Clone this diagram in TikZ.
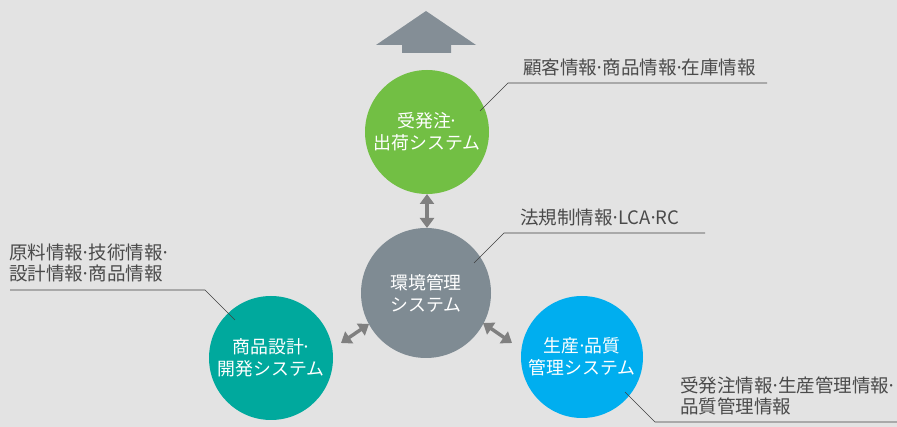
\documentclass[tikz,border=0pt]{standalone}
\usepackage{fontspec}
\setmainfont{Noto Sans CJK JP}
\usetikzlibrary{arrows.meta}
\definecolor{bgc}{HTML}{E3E3E3}
\definecolor{cgreen}{HTML}{72BF44}
\definecolor{cgray}{HTML}{7F8B93}
\definecolor{cteal}{HTML}{00A99D}
\definecolor{cblue}{HTML}{00AEEF}
\definecolor{arrowgray}{HTML}{808080}
\definecolor{bigarrow}{HTML}{848E96}
\definecolor{txt}{HTML}{4A4A4A}
\newcommand{\mdt}{\hbox to 0.28em{\hss·\hss}}
\tikzset{
  sysnode/.style={circle, inner sep=0pt, text=white, align=center,
    font=\fontsize{13.4}{16.5}\selectfont},
  infolabel/.style={anchor=west, inner sep=0pt, text=txt, align=left,
    font=\fontsize{13.9}{15.8}\selectfont},
  leader/.style={draw=black!75, line width=0.5pt},
  dblarrow/.style={draw=arrowgray, line width=2.6pt, {Triangle[width=10.5pt,length=7.5pt]}-{Triangle[width=10.5pt,length=7.5pt]}}
}
\begin{document}
\begin{tikzpicture}[x=0.75pt, y=-0.75pt]
\fill[bgc] (0,0) rectangle (897,427);
\useasboundingbox (0,0) rectangle (897,427);
% top big arrow
\fill[bigarrow] (426,11) -- (476,45) -- (451,45) -- (451,53) -- (402,53) -- (402,45) -- (376,45) -- cycle;
% circles
\node[sysnode, fill=cgreen, minimum size=93pt] (order) at (427,132) {受発注\mdt\\出荷システム};
\node[sysnode, fill=cgray, minimum size=97.5pt] (env) at (426,293) {環境管理\\システム};
\node[sysnode, fill=cteal, minimum size=93pt] (dev) at (271,358) {商品設計\mdt\\開発システム};
\node[sysnode, fill=cblue, minimum size=91.5pt] (prod) at (582,357) {生産\mdt 品質\\管理システム};
% double arrows
\coordinate (a1s) at (427,194); \coordinate (a1e) at (427,228);
\coordinate (a2s) at (341,343); \coordinate (a2e) at (369,324);
\coordinate (a3s) at (483,323); \coordinate (a3e) at (512,343);
\draw[dblarrow] (a1s) -- (a1e);
\draw[dblarrow] (a2s) -- (a2e);
\draw[dblarrow] (a3s) -- (a3e);
% labels
\node[infolabel] (lorder) at (523,67) {顧客情報\mdt 商品情報\mdt 在庫情報};
\node[infolabel] (lenv) at (520,217) {法規制情報\mdt LCA\mdt RC};
\node[infolabel] (ldev) at (9,263) {原料情報\mdt 技術情報\mdt\\設計情報\mdt 商品情報};
\node[infolabel] (lprod) at (680,396) {受発注情報\mdt 生産管理情報\mdt\\品質管理情報};
% leader lines
\coordinate (p1a) at (480,111); \coordinate (p1b) at (508,83); \coordinate (p1c) at (767,83);
\draw[leader] (p1a) -- (p1b) -- (p1c);
\coordinate (p2a) at (474,263); \coordinate (p2b) at (504,233); \coordinate (p2c) at (705,233);
\draw[leader] (p2a) -- (p2b) -- (p2c);
\coordinate (p3a) at (235,320); \coordinate (p3b) at (205,290); \coordinate (p3c) at (10,290);
\draw[leader] (p3a) -- (p3b) -- (p3c);
\coordinate (p4a) at (625,392); \coordinate (p4b) at (655,422); \coordinate (p4c) at (897,422);
\draw[leader] (p4a) -- (p4b) -- (p4c);
\end{tikzpicture}
\end{document}
